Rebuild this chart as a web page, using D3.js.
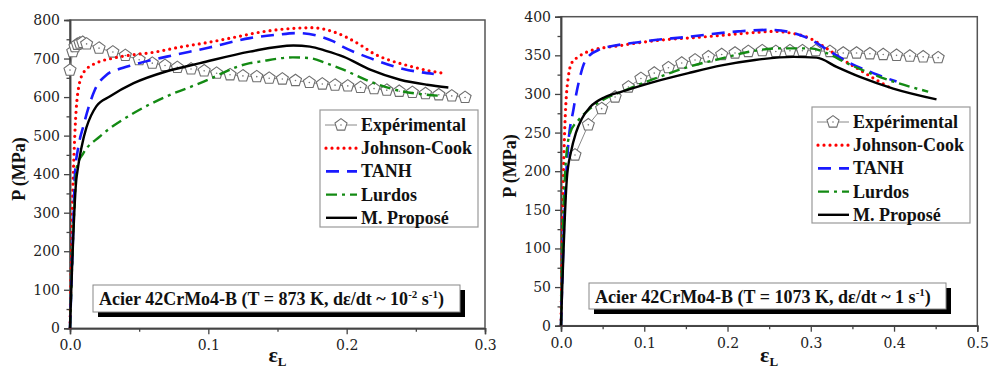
<!DOCTYPE html>
<html><head><meta charset="utf-8">
<script src="https://cdn.jsdelivr.net/npm/d3@7"></script>
<style>
html,body{margin:0;padding:0;background:#fff;}
svg{display:block;}
</style></head>
<body>
<svg id="chart" width="989" height="371"></svg>
<script>
// ---------- DATA (left panel: T = 873 K) ----------
const expL_eps = [0, 0.002, 0.0036, 0.0053, 0.0072, 0.0092, 0.012, 0.021, 0.031, 0.040, 0.050, 0.0595, 0.0687, 0.0776, 0.0875, 0.097, 0.106, 0.1157, 0.125, 0.135, 0.144, 0.1535, 0.163, 0.173, 0.1824, 0.1916, 0.2008, 0.210, 0.2198, 0.229, 0.238, 0.2475, 0.257, 0.2666, 0.276, 0.2856];
const expL_P   = [670, 718, 731, 737, 740, 742, 738, 727, 717, 708, 697, 688, 682, 677, 673, 668, 662, 658, 655, 653, 649, 647, 643, 638, 634, 631, 629, 625, 622, 618, 615, 612, 609, 606, 603, 599];
const jcL_eps  = [0, 0.001, 0.002, 0.003, 0.004, 0.006, 0.01, 0.02, 0.03, 0.04, 0.06, 0.08, 0.1, 0.12, 0.14, 0.16, 0.175, 0.19, 0.2, 0.21, 0.22, 0.23, 0.245, 0.26, 0.27];
const jcL_P    = [0, 180, 350, 460, 540, 620, 665, 690, 700, 707, 716, 730, 742, 756, 770, 778, 780, 770, 755, 735, 712, 697, 681, 668, 662];
const tanhL_eps = [0, 0.002, 0.0036, 0.006, 0.0096, 0.014, 0.018, 0.0265, 0.035, 0.046, 0.07, 0.1, 0.13, 0.15, 0.164, 0.178, 0.19, 0.197, 0.217, 0.241, 0.263];
const tanhL_P   = [0, 220, 402, 470, 524, 580, 619, 658, 672, 684, 705, 728, 753, 762, 766, 760, 745, 731, 701, 673, 660];
const lurL_eps = [0, 0.003, 0.005, 0.0096, 0.0217, 0.0458, 0.07, 0.094, 0.13, 0.137, 0.161, 0.1735, 0.185, 0.1976, 0.217, 0.2386, 0.258, 0.269];
const lurL_P   = [0, 300, 420, 454, 498, 558, 602, 636, 688, 692, 703, 701, 688, 671, 640, 616, 606, 603];
const propL_eps = [0, 0.0048, 0.019, 0.029, 0.046, 0.07, 0.094, 0.13, 0.1615, 0.1735, 0.185, 0.1976, 0.217, 0.2386, 0.258, 0.2735];
const propL_P   = [0, 394, 576, 602, 636, 667, 688, 718, 734, 731, 720, 705, 671, 645, 632, 625];

// ---------- DATA (right panel: T = 1073 K) ----------
const expR_eps = [0.0168, 0.0328, 0.0488, 0.065, 0.081, 0.096, 0.112, 0.129, 0.145, 0.161, 0.177, 0.193, 0.209, 0.225, 0.2417, 0.258, 0.275, 0.29, 0.306, 0.323, 0.339, 0.355, 0.371, 0.387, 0.403, 0.419, 0.435, 0.453];
const expR_P   = [221, 260, 281, 296, 309, 320, 327, 334, 340, 344, 348, 351, 353, 355, 356, 355, 356, 356, 356, 355, 353, 353, 352, 351, 350, 349, 348, 347];
const jcR_eps  = [0, 0.0015, 0.003, 0.0045, 0.006, 0.0088, 0.0128, 0.0208, 0.0328, 0.073, 0.113, 0.173, 0.239, 0.255, 0.275, 0.299, 0.319, 0.339, 0.359, 0.379, 0.399];
const jcR_P    = [0, 110, 200, 255, 290, 322, 340, 348, 355, 363, 369, 374, 380, 381, 379, 372, 359, 344, 331, 318, 306];
const tanhR_eps = [0, 0.003, 0.006, 0.0088, 0.0148, 0.0228, 0.0288, 0.045, 0.093, 0.153, 0.213, 0.25, 0.279, 0.299, 0.323, 0.347, 0.375, 0.403];
const tanhR_P   = [0, 110, 190, 236, 279, 322, 342, 357, 367, 374, 381, 383, 379, 371, 355, 340, 327, 316];
const lurR_eps = [0, 0.003, 0.006, 0.0108, 0.0208, 0.0328, 0.053, 0.073, 0.113, 0.153, 0.193, 0.233, 0.259, 0.299, 0.319, 0.343, 0.371, 0.399, 0.441];
const lurR_P   = [0, 150, 215, 249, 266, 279, 294, 303, 320, 335, 346, 356, 359, 359, 353, 340, 327, 316, 303];
const propR_eps = [0, 0.007, 0.012, 0.018, 0.025, 0.035, 0.053, 0.073, 0.113, 0.153, 0.193, 0.233, 0.279, 0.307, 0.331, 0.359, 0.399, 0.451];
const propR_P   = [0, 190, 225, 250, 268, 283, 296, 303, 316, 327, 337, 344, 348, 347, 335, 322, 307, 293];

// ---------- TICKS / LABELS ----------
const seriesNames = ["Expérimental", "Johnson-Cook", "TANH", "Lurdos", "M. Proposé"];
const xTicksL = [0, 0.1, 0.2, 0.3];
const xMinorL = [0.05, 0.15, 0.25];
const yTicksL = [0, 100, 200, 300, 400, 500, 600, 700, 800];
const yMinorL = [50, 150, 250, 350, 450, 550, 650, 750];
const xTicksR = [0, 0.1, 0.2, 0.3, 0.4, 0.5];
const xMinorR = [0.05, 0.15, 0.25, 0.35, 0.45];
const yTicksR = [0, 50, 100, 150, 200, 250, 300, 350, 400];
const yMinorR = [25, 75, 125, 175, 225, 275, 325, 375];
const yLabel = "P (MPa)";

// ---------- STYLES ----------
const styles = {
  "Expérimental": {color: "#777", width: 1, dash: null},
  "Johnson-Cook": {color: "#ff0000", width: 3.2, dash: "0,6", cap: "round"},
  "TANH": {color: "#1a1aff", width: 2.6, dash: "13,8"},
  "Lurdos": {color: "#138a13", width: 2.4, dash: "11,5,3,5"},
  "M. Proposé": {color: "#000", width: 2.4, dash: null}
};

const svg = d3.select("#chart");
svg.append("rect").attr("width", 989).attr("height", 371).attr("fill", "#fff");

const pentagon = {
  draw(ctx, size) {
    const r = Math.sqrt(size / 2.378);
    for (let i = 0; i < 5; i++) {
      const a = -Math.PI / 2 + i * 2 * Math.PI / 5;
      const px = r * Math.cos(a), py = r * Math.sin(a);
      if (i === 0) ctx.moveTo(px, py); else ctx.lineTo(px, py);
    }
    ctx.closePath();
  }
};

function zip(xs, ys) { return xs.map((x, i) => ({x, y: ys[i]})); }

function panel(cfg) {
  const x = d3.scaleLinear().domain(cfg.xDomain).range(cfg.xRange);
  const y = d3.scaleLinear().domain(cfg.yDomain).range(cfg.yRange);
  const g = svg.append("g");
  const font = "'Liberation Serif', 'Times New Roman', serif";
  const tickFont = "'DejaVu Serif', serif";

  // frame
  g.append("rect")
    .attr("x", cfg.xRange[0]).attr("y", cfg.yRange[1])
    .attr("width", cfg.xRange[1] - cfg.xRange[0])
    .attr("height", cfg.yRange[0] - cfg.yRange[1])
    .attr("fill", "none").attr("stroke", "#555").attr("stroke-width", 1.5);

  // axes
  const xAx = g.append("g").attr("transform", `translate(0,${cfg.yRange[0]})`)
    .call(d3.axisBottom(x).tickValues(cfg.xTicks).tickSize(6).tickPadding(6).tickFormat(d3.format(".1f")));
  const xAxMinor = g.append("g").attr("transform", `translate(0,${cfg.yRange[0]})`)
    .call(d3.axisBottom(x).tickValues(cfg.xMinor).tickSize(3.5).tickFormat(""));
  const yAx = g.append("g").attr("transform", `translate(${cfg.xRange[0]},0)`)
    .call(d3.axisLeft(y).tickValues(cfg.yTicks).tickSize(6).tickPadding(4).tickFormat(d3.format("d")));
  const yAxMinor = g.append("g").attr("transform", `translate(${cfg.xRange[0]},0)`)
    .call(d3.axisLeft(y).tickValues(cfg.yMinor).tickSize(3.5).tickFormat(""));
  [xAx, xAxMinor, yAx, yAxMinor].forEach(a => {
    a.select(".domain").attr("stroke", "#444").attr("stroke-width", 1.5);
    a.selectAll(".tick line").attr("stroke", "#444").attr("stroke-width", 1.3);
    a.selectAll(".tick text").attr("font-family", tickFont).attr("font-size", 14).attr("fill", "#222");
  });

  const line = d3.line().x(d => x(d.x)).y(d => y(d.y)).curve(d3.curveMonotoneX);

  // clip
  const clipId = "clip" + cfg.id;
  svg.append("clipPath").attr("id", clipId).append("rect")
    .attr("x", cfg.xRange[0] - 8).attr("y", cfg.yRange[1] - 8)
    .attr("width", cfg.xRange[1] - cfg.xRange[0] + 16)
    .attr("height", cfg.yRange[0] - cfg.yRange[1] + 8);
  const plot = g.append("g").attr("clip-path", `url(#${clipId})`);

  // experimental
  const expData = zip(cfg.exp[0], cfg.exp[1]);
  plot.append("path").datum(expData).attr("d", d3.line().x(d => x(d.x)).y(d => y(d.y)))
    .attr("fill", "none").attr("stroke", "#888").attr("stroke-width", 1);
  const sym = d3.symbol().type(pentagon).size(95);
  const mk = plot.selectAll(".mk").data(expData).enter().append("g")
    .attr("transform", d => `translate(${x(d.x)},${y(d.y)})`);
  mk.append("path").attr("d", sym).attr("fill", "#fff").attr("stroke", "#6e6e6e").attr("stroke-width", 1.1);
  mk.append("circle").attr("r", 0.8).attr("fill", "#777");

  // models
  cfg.models.forEach(m => {
    const s = styles[m.name];
    plot.append("path").datum(zip(m.xs, m.ys)).attr("d", line)
      .attr("fill", "none").attr("stroke", s.color).attr("stroke-width", s.width)
      .attr("stroke-dasharray", s.dash).attr("stroke-linecap", s.cap || "butt")
      .attr("stroke-linejoin", "round");
  });

  // legend
  const L = cfg.legend;
  const lg = g.append("g");
  lg.append("rect").attr("x", L.x).attr("y", L.y).attr("width", L.w).attr("height", L.h)
    .attr("fill", "#fff").attr("stroke", "#999").attr("stroke-width", 1.2);
  seriesNames.forEach((n, i) => {
    const s = styles[n];
    const yy = L.y + 15 + i * 23.2;
    const x0 = L.x + 5, x1 = L.x + 37;
    if (n === "Expérimental") {
      lg.append("line").attr("x1", x0).attr("x2", x1).attr("y1", yy).attr("y2", yy)
        .attr("stroke", "#888").attr("stroke-width", 1);
      const gm = lg.append("g").attr("transform", `translate(${(x0 + x1) / 2},${yy})`);
      gm.append("path").attr("d", sym).attr("fill", "#fff").attr("stroke", "#6e6e6e").attr("stroke-width", 1.1);
      gm.append("circle").attr("r", 0.8).attr("fill", "#777");
    } else {
      lg.append("line").attr("x1", x0 + 1).attr("x2", x1).attr("y1", yy).attr("y2", yy)
        .attr("stroke", s.color).attr("stroke-width", s.width)
        .attr("stroke-dasharray", s.dash).attr("stroke-linecap", s.cap || "butt");
    }
    lg.append("text").attr("x", L.x + 41).attr("y", yy + 6).text(n)
      .attr("font-family", font).attr("font-weight", "bold").attr("font-size", 18).attr("fill", "#111");
  });

  // annotation box with shadow
  const A = cfg.annot;
  g.append("rect").attr("x", A.x + 5).attr("y", A.y + 5).attr("width", A.w).attr("height", A.h).attr("fill", "#000");
  g.append("rect").attr("x", A.x).attr("y", A.y).attr("width", A.w).attr("height", A.h)
    .attr("fill", "#fff").attr("stroke", "#888").attr("stroke-width", 1);
  const t = g.append("text").attr("x", A.x + 6).attr("y", A.y + 20)
    .attr("font-family", font).attr("font-weight", "bold").attr("font-size", 18).attr("fill", "#111");
  t.append("tspan").text(A.main);
  if (A.exp1) t.append("tspan").attr("dy", -7).attr("font-size", 11).text(A.exp1);
  t.append("tspan").attr("dy", A.exp1 ? 7 : 0).text(A.mid);
  t.append("tspan").attr("dy", -7).attr("font-size", 11).text(A.exp2);
  t.append("tspan").attr("dy", 7).text(")");

  // axis titles
  const cx = (cfg.xRange[0] + cfg.xRange[1]) / 2;
  const xt = g.append("text").attr("x", cx).attr("y", 362).attr("text-anchor", "middle")
    .attr("font-family", font).attr("font-weight", "bold").attr("fill", "#111");
  xt.append("tspan").attr("font-size", 22).text("ε");
  xt.append("tspan").attr("font-size", 13).attr("dy", 4).text("L");
  g.append("text").attr("transform", `translate(${cfg.yTitleX},${cfg.yTitleY}) rotate(-90)`)
    .attr("text-anchor", "middle").attr("font-family", font).attr("font-weight", "bold")
    .attr("font-size", 18).attr("fill", "#111").text(yLabel);
}

panel({
  id: "L", xDomain: [0, 0.3], xRange: [70, 485], yDomain: [0, 800], yRange: [328.3, 20],
  xTicks: xTicksL, xMinor: xMinorL, yTicks: yTicksL, yMinor: yMinorL,
  exp: [expL_eps, expL_P],
  models: [
    {name: "Johnson-Cook", xs: jcL_eps, ys: jcL_P},
    {name: "TANH", xs: tanhL_eps, ys: tanhL_P},
    {name: "Lurdos", xs: lurL_eps, ys: lurL_P},
    {name: "M. Proposé", xs: propL_eps, ys: propL_P}
  ],
  legend: {x: 320, y: 110, w: 158, h: 117},
  annot: {x: 93, y: 285, w: 367, h: 27, main: "Acier 42CrMo4-B (T = 873 K, dε/dt ~ 10", exp1: "-2", mid: " s", exp2: "-1"},
  yTitleX: 25, yTitleY: 169
});

panel({
  id: "R", xDomain: [0, 0.5], xRange: [561, 977.3], yDomain: [0, 400], yRange: [325.7, 16.7],
  xTicks: xTicksR, xMinor: xMinorR, yTicks: yTicksR, yMinor: yMinorR,
  exp: [expR_eps, expR_P],
  models: [
    {name: "Johnson-Cook", xs: jcR_eps, ys: jcR_P},
    {name: "TANH", xs: tanhR_eps, ys: tanhR_P},
    {name: "Lurdos", xs: lurR_eps, ys: lurR_P},
    {name: "M. Proposé", xs: propR_eps, ys: propR_P}
  ],
  legend: {x: 812, y: 107, w: 158, h: 116},
  annot: {x: 589, y: 283, w: 357, h: 26, main: "Acier 42CrMo4-B (T = 1073 K, dε/dt ~ 1 s", exp1: null, mid: "", exp2: "-1"},
  yTitleX: 516, yTitleY: 166
});
</script>
</body></html>
